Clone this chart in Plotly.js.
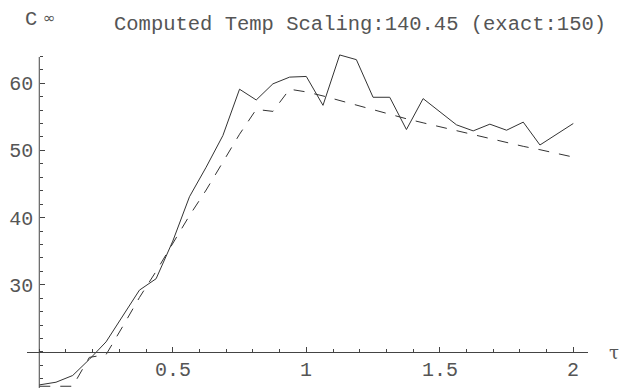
<!DOCTYPE html>
<html>
<head>
<meta charset="utf-8">
<script src="https://cdn.plot.ly/plotly-3.0.1.min.js"></script>
<style>html,body{margin:0;padding:0;background:#fff;}#chart{width:619px;height:390px;}</style>
</head>
<body>
<div id="chart"></div>
<script>
// tau grid (x values)
const tau = [0, 0.0625, 0.125, 0.1875, 0.25, 0.3125, 0.375, 0.4375, 0.5, 0.5625, 0.625, 0.6875, 0.75, 0.8125, 0.875, 0.9375, 1.0, 1.0625, 1.125, 1.1875, 1.25, 1.3125, 1.375, 1.4375, 1.5, 1.5625, 1.625, 1.6875, 1.75, 1.8125, 1.875, 1.9375, 2.0];
// computed C-infinity (solid)
const computed = [15.1, 15.5, 16.5, 18.9, 21.5, 25.3, 29.2, 30.9, 36.5, 43.1, 47.5, 52.2, 59.1, 57.5, 59.9, 60.9, 61.0, 56.7, 64.2, 63.5, 57.9, 57.9, 53.1, 57.7, 55.8, 53.8, 52.9, 53.9, 53.0, 54.2, 50.8, 52.4, 54.0];
// exact C-infinity (dashed)
const exact = [14.9, 14.9, 14.9, 19.2, 19.6, 23.8, 28.1, 32.0, 36.1, 40.3, 44.1, 48.3, 52.4, 56.1, 55.8, 59.1, 58.7, 58.1, 57.4, 56.8, 56.1, 55.4, 54.7, 54.1, 53.5, 52.9, 52.4, 51.8, 51.2, 50.6, 50.1, 49.6, 49.0];
// ticks
const xTickVals = [0.5, 1, 1.5, 2];
const xTickText = ["0.5", "1", "1.5", "2"];
const yTickVals = [30, 40, 50, 60];
const yTickText = ["30", "40", "50", "60"];
const titleText = "Computed Temp Scaling:140.45 (exact:150)";

const xRange = [-0.046, 2.055];
const yRange = [14.64, 64.34];
const yAxisTop = 63.9;
const axisCrossY = 20;
const axisCrossX = 0;

const mono = "Liberation Mono, Courier New, monospace";
const txtColor = "#555";
const lineColor = "#333";
const axColor = "#444";

const H = 390, T = 54, B = 2;
const plotH = H - T - B;
const pyToPaper = py => (H - B - py) / plotH;

const traces = [
  {x: tau, y: computed, type: "scatter", mode: "lines",
   line: {color: lineColor, width: 1}, hoverinfo: "skip"},
  {x: tau, y: exact, type: "scatter", mode: "lines",
   line: {color: lineColor, width: 1, dash: "11px,10px"}, hoverinfo: "skip"}
];

const xPos = (axisCrossY - yRange[0]) / (yRange[1] - yRange[0]);

const annotations = [
  {text: titleText, xref: "paper", yref: "paper", x: (112 - 27) / 561, y: pyToPaper(24),
   xanchor: "left", yanchor: "middle", showarrow: false,
   font: {family: mono, size: 20.5, color: txtColor}},
  {text: "C", xref: "paper", yref: "paper", x: (23 - 27) / 561, y: pyToPaper(20),
   xanchor: "left", yanchor: "middle", showarrow: false,
   font: {family: mono, size: 20.5, color: txtColor}},
  {text: "∞", xref: "paper", yref: "paper", x: (41 - 27) / 561, y: pyToPaper(18),
   xanchor: "left", yanchor: "middle", showarrow: false,
   font: {family: "DejaVu Sans", size: 15, color: txtColor}},
  {text: "τ", xref: "paper", yref: "paper", x: (607 - 27) / 561, y: pyToPaper(352),
   xanchor: "left", yanchor: "middle", showarrow: false,
   font: {family: "DejaVu Serif", size: 18, color: "#555"}}
];
xTickVals.forEach((v, i) => {
  annotations.push({text: xTickText[i], xref: "x", yref: "paper", x: v, y: pyToPaper(370),
    xanchor: "center", yanchor: "middle", showarrow: false,
    font: {family: mono, size: 20, color: txtColor}});
});

const layout = {
  width: 619, height: 390,
  margin: {l: 27, r: 31, t: T, b: B, pad: 0},
  paper_bgcolor: "#fff", plot_bgcolor: "#fff",
  showlegend: false,
  xaxis: {
    range: xRange, anchor: "free", position: xPos,
    showgrid: false, zeroline: false, showline: true, linecolor: axColor, linewidth: 1,
    tickmode: "array", tickvals: xTickVals, showticklabels: false,
    ticks: "inside", ticklen: 4.5, tickcolor: axColor, tickwidth: 1,
    minor: {dtick: 0.1, tick0: 0, ticks: "inside", ticklen: 2.5, tickcolor: axColor, tickwidth: 1}
  },
  yaxis: {
    range: yRange, anchor: "free",
    position: (axisCrossX - xRange[0]) / (xRange[1] - xRange[0]),
    showgrid: false, zeroline: false, showline: false,
    tickmode: "array", tickvals: yTickVals, ticktext: yTickText,
    ticks: "inside", ticklen: 4.5, tickcolor: axColor, tickwidth: 1,
    minor: {dtick: 2, tick0: 0, ticks: "inside", ticklen: 2.5, tickcolor: axColor, tickwidth: 1},
    tickfont: {family: mono, size: 20, color: txtColor},
    ticklabelstandoff: 6
  },
  shapes: [
    {type: "line", xref: "x", yref: "y", x0: axisCrossX, x1: axisCrossX, y0: yRange[0], y1: yAxisTop,
     line: {color: axColor, width: 1}}
  ],
  annotations: annotations
};

Plotly.newPlot("chart", traces, layout, {staticPlot: true, displayModeBar: false});
</script>
</body>
</html>
